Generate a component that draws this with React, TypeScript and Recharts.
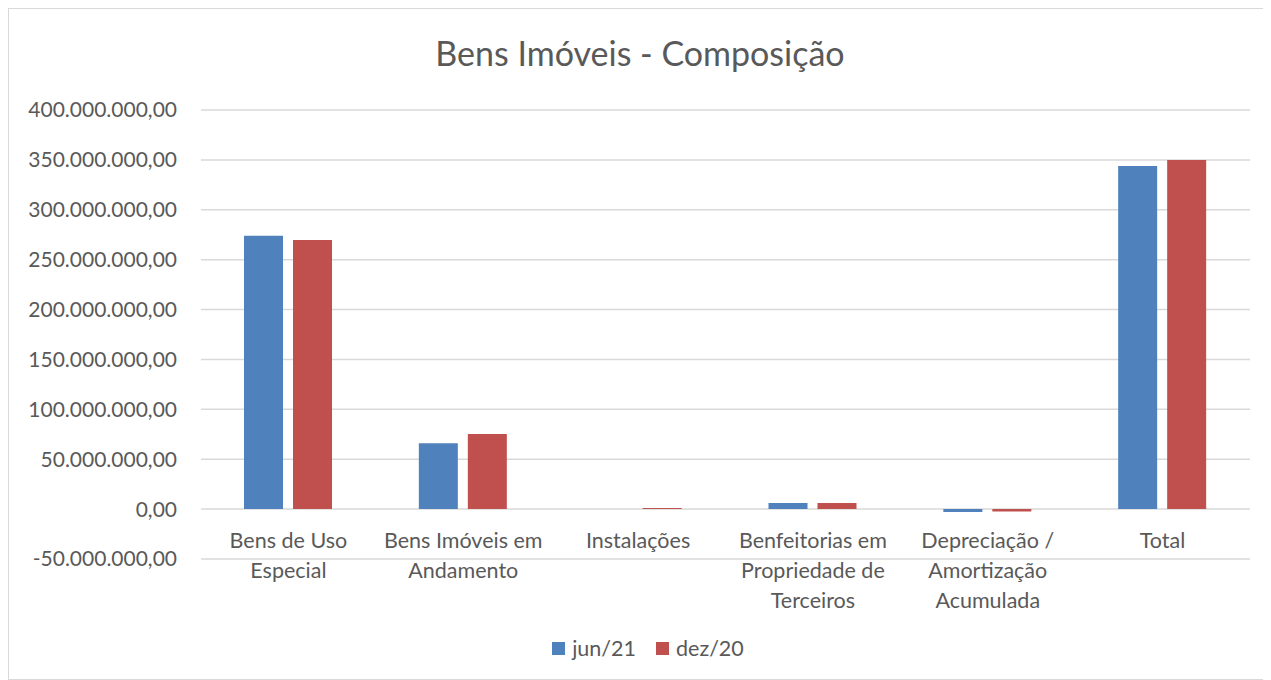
import React from "react";
import { BarChart, Bar, XAxis, YAxis, CartesianGrid, Legend } from "recharts";

const categories = [
  "Bens de Uso Especial",
  "Bens Imóveis em Andamento",
  "Instalações",
  "Benfeitorias em Propriedade de Terceiros",
  "Depreciação / Amortização Acumulada",
  "Total",
];
const categoryLines = [
  ["Bens de Uso", "Especial"],
  ["Bens Imóveis em", "Andamento"],
  ["Instalações"],
  ["Benfeitorias em", "Propriedade de", "Terceiros"],
  ["Depreciação /", "Amortização", "Acumulada"],
  ["Total"],
];
const jun21 = [274000000, 65900000, 0, 6000000, -3000000, 343900000];
const dez20 = [269700000, 75300000, 1000000, 6000000, -2500000, 350000000];
const yTicks = [-50000000, 0, 50000000, 100000000, 150000000, 200000000, 250000000, 300000000, 350000000, 400000000];
const seriesNames = ["jun/21", "dez/20"];
const seriesColors = ["#4F81BD", "#C0504D"];

const data = categories.map((c, i) => ({ name: c, idx: i, jun: jun21[i], dez: dez20[i] }));

const FONT = "Lato, 'Open Sans', sans-serif";
const TEXT = "#595959";

function fmt(v: number): string {
  const neg = v < 0;
  const s = Math.abs(Math.round(v)).toString();
  const parts: string[] = [];
  for (let i = s.length; i > 0; i -= 3) parts.unshift(s.slice(Math.max(0, i - 3), i));
  return (neg ? "-" : "") + parts.join(".") + ",00";
}

const CatTick = (props: any) => {
  const { x, y, index } = props;
  const lines = categoryLines[index] || [];
  return (
    <text x={x} y={y} textAnchor="middle" fill={TEXT} fontSize={21.5} fontFamily={FONT}>
      {lines.map((l, i) => (
        <tspan key={i} x={x} y={y - 19 + i * 30}>{l}</tspan>
      ))}
    </text>
  );
};

const LegendContent = () => (
  <div style={{ display: "flex", justifyContent: "center", alignItems: "center", fontFamily: FONT, fontSize: 21.5, color: TEXT, paddingLeft: 16 }}>
    {seriesNames.map((n, i) => (
      <div key={n} style={{ display: "flex", alignItems: "center", marginRight: i === 0 ? 20 : 0 }}>
        <div style={{ width: 13, height: 13, background: seriesColors[i], marginRight: 7 }} />
        <span>{n}</span>
      </div>
    ))}
  </div>
);

export default function App() {
  return (
    <div style={{ width: 1262, height: 670, border: "1px solid #d9d9d9", position: "relative", background: "#fff" }}>
      <div style={{ position: "absolute", top: 23, left: 0, width: 1262, textAlign: "center", fontFamily: FONT, fontSize: 34, color: TEXT }}>
        Bens Imóveis - Composição
      </div>
      <BarChart width={1262} height={670} data={data} margin={{ top: 101, right: 21, bottom: 64, left: 0 }} barSize={39} barGap={10}>
        <CartesianGrid vertical={false} stroke="#d9d9d9" strokeWidth={1.5} />
        <YAxis
          domain={[-50000000, 400000000]}
          ticks={yTicks}
          interval={0}
          tickFormatter={fmt}
          axisLine={false}
          tickLine={false}
          width={192}
          tickMargin={18}
          tick={{ fill: TEXT, fontSize: 21, fontFamily: FONT }}
        />
        <XAxis dataKey="name" axisLine={false} tickLine={false} interval={0} tick={<CatTick />} />
        <Legend content={<LegendContent />} wrapperStyle={{ left: 0, width: 1262, top: 626 }} />
        <Bar dataKey="jun" name={seriesNames[0]} fill={seriesColors[0]} isAnimationActive={false} />
        <Bar dataKey="dez" name={seriesNames[1]} fill={seriesColors[1]} isAnimationActive={false} />
      </BarChart>
    </div>
  );
}
